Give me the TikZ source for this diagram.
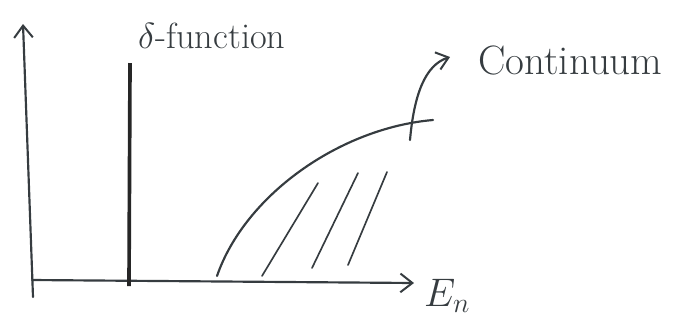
\documentclass[tikz,border=0pt]{standalone}
\usepackage{fix-cm}
\usepackage{tikz}
\usetikzlibrary{arrows.meta,positioning}
\definecolor{mInk}{HTML}{363C40}

\begin{document}
\begin{tikzpicture}[
  x=0.3mm, y=-0.3mm,
  font=\fontsize{31}{36}\selectfont,
  pen/.style={draw=mInk, line width=0.65mm, line cap=round},
  axis/.style={pen, -{Straight Barb[length=3.6mm,width=5.6mm,line width=0.6mm]}},
  peak/.style={draw=black!85, line width=1.1mm},
  hatch/.style={pen, line width=0.5mm},
  lbl/.style={text=mInk, inner sep=0pt}]
\useasboundingbox (0,0) rectangle (677,323);
% axes
\coordinate (orig) at (32,280);
\coordinate (ytop) at (23,24);
\coordinate (ybot) at (33,297);
\coordinate (xend) at (414,283);
\draw[axis] (ybot) -- (ytop);
\draw[axis] (orig) -- (xend);
\node[lbl, anchor=west, font=\fontsize{34}{40}\selectfont] (en) at (424,296) {$E_n$};
% delta peak
\coordinate (dtop) at (130,63);
\coordinate (dbot) at (129,286);
\draw[peak] (dbot) -- (dtop);
\node[lbl, anchor=west] (dlbl) at (138,36) {$\delta$-function};
% continuum edge and hatching
\coordinate (cstart) at (217,276);
\coordinate (cend) at (433,120);
\draw[pen] (cstart) .. controls (245,195) and (340,128) .. (cend);
\coordinate (h1a) at (262,276); \coordinate (h1b) at (318,183);
\coordinate (h2a) at (312,268); \coordinate (h2b) at (358,173);
\coordinate (h3a) at (348,265); \coordinate (h3b) at (387,172);
\draw[hatch] (h1a) -- (h1b);
\draw[hatch] (h2a) -- (h2b);
\draw[hatch] (h3a) -- (h3b);
% label pointer
\coordinate (pfrom) at (410,140);
\coordinate (pto) at (450,57);
\draw[pen, -{Straight Barb[length=3.4mm,width=5.4mm,line width=0.6mm]}]
  (pfrom) .. controls (414,95) and (425,65) .. (pto);
\node[lbl, anchor=west, font=\fontsize{35}{40}\selectfont] (clbl) at (478,60) {Continuum};
\end{tikzpicture}
\end{document}
